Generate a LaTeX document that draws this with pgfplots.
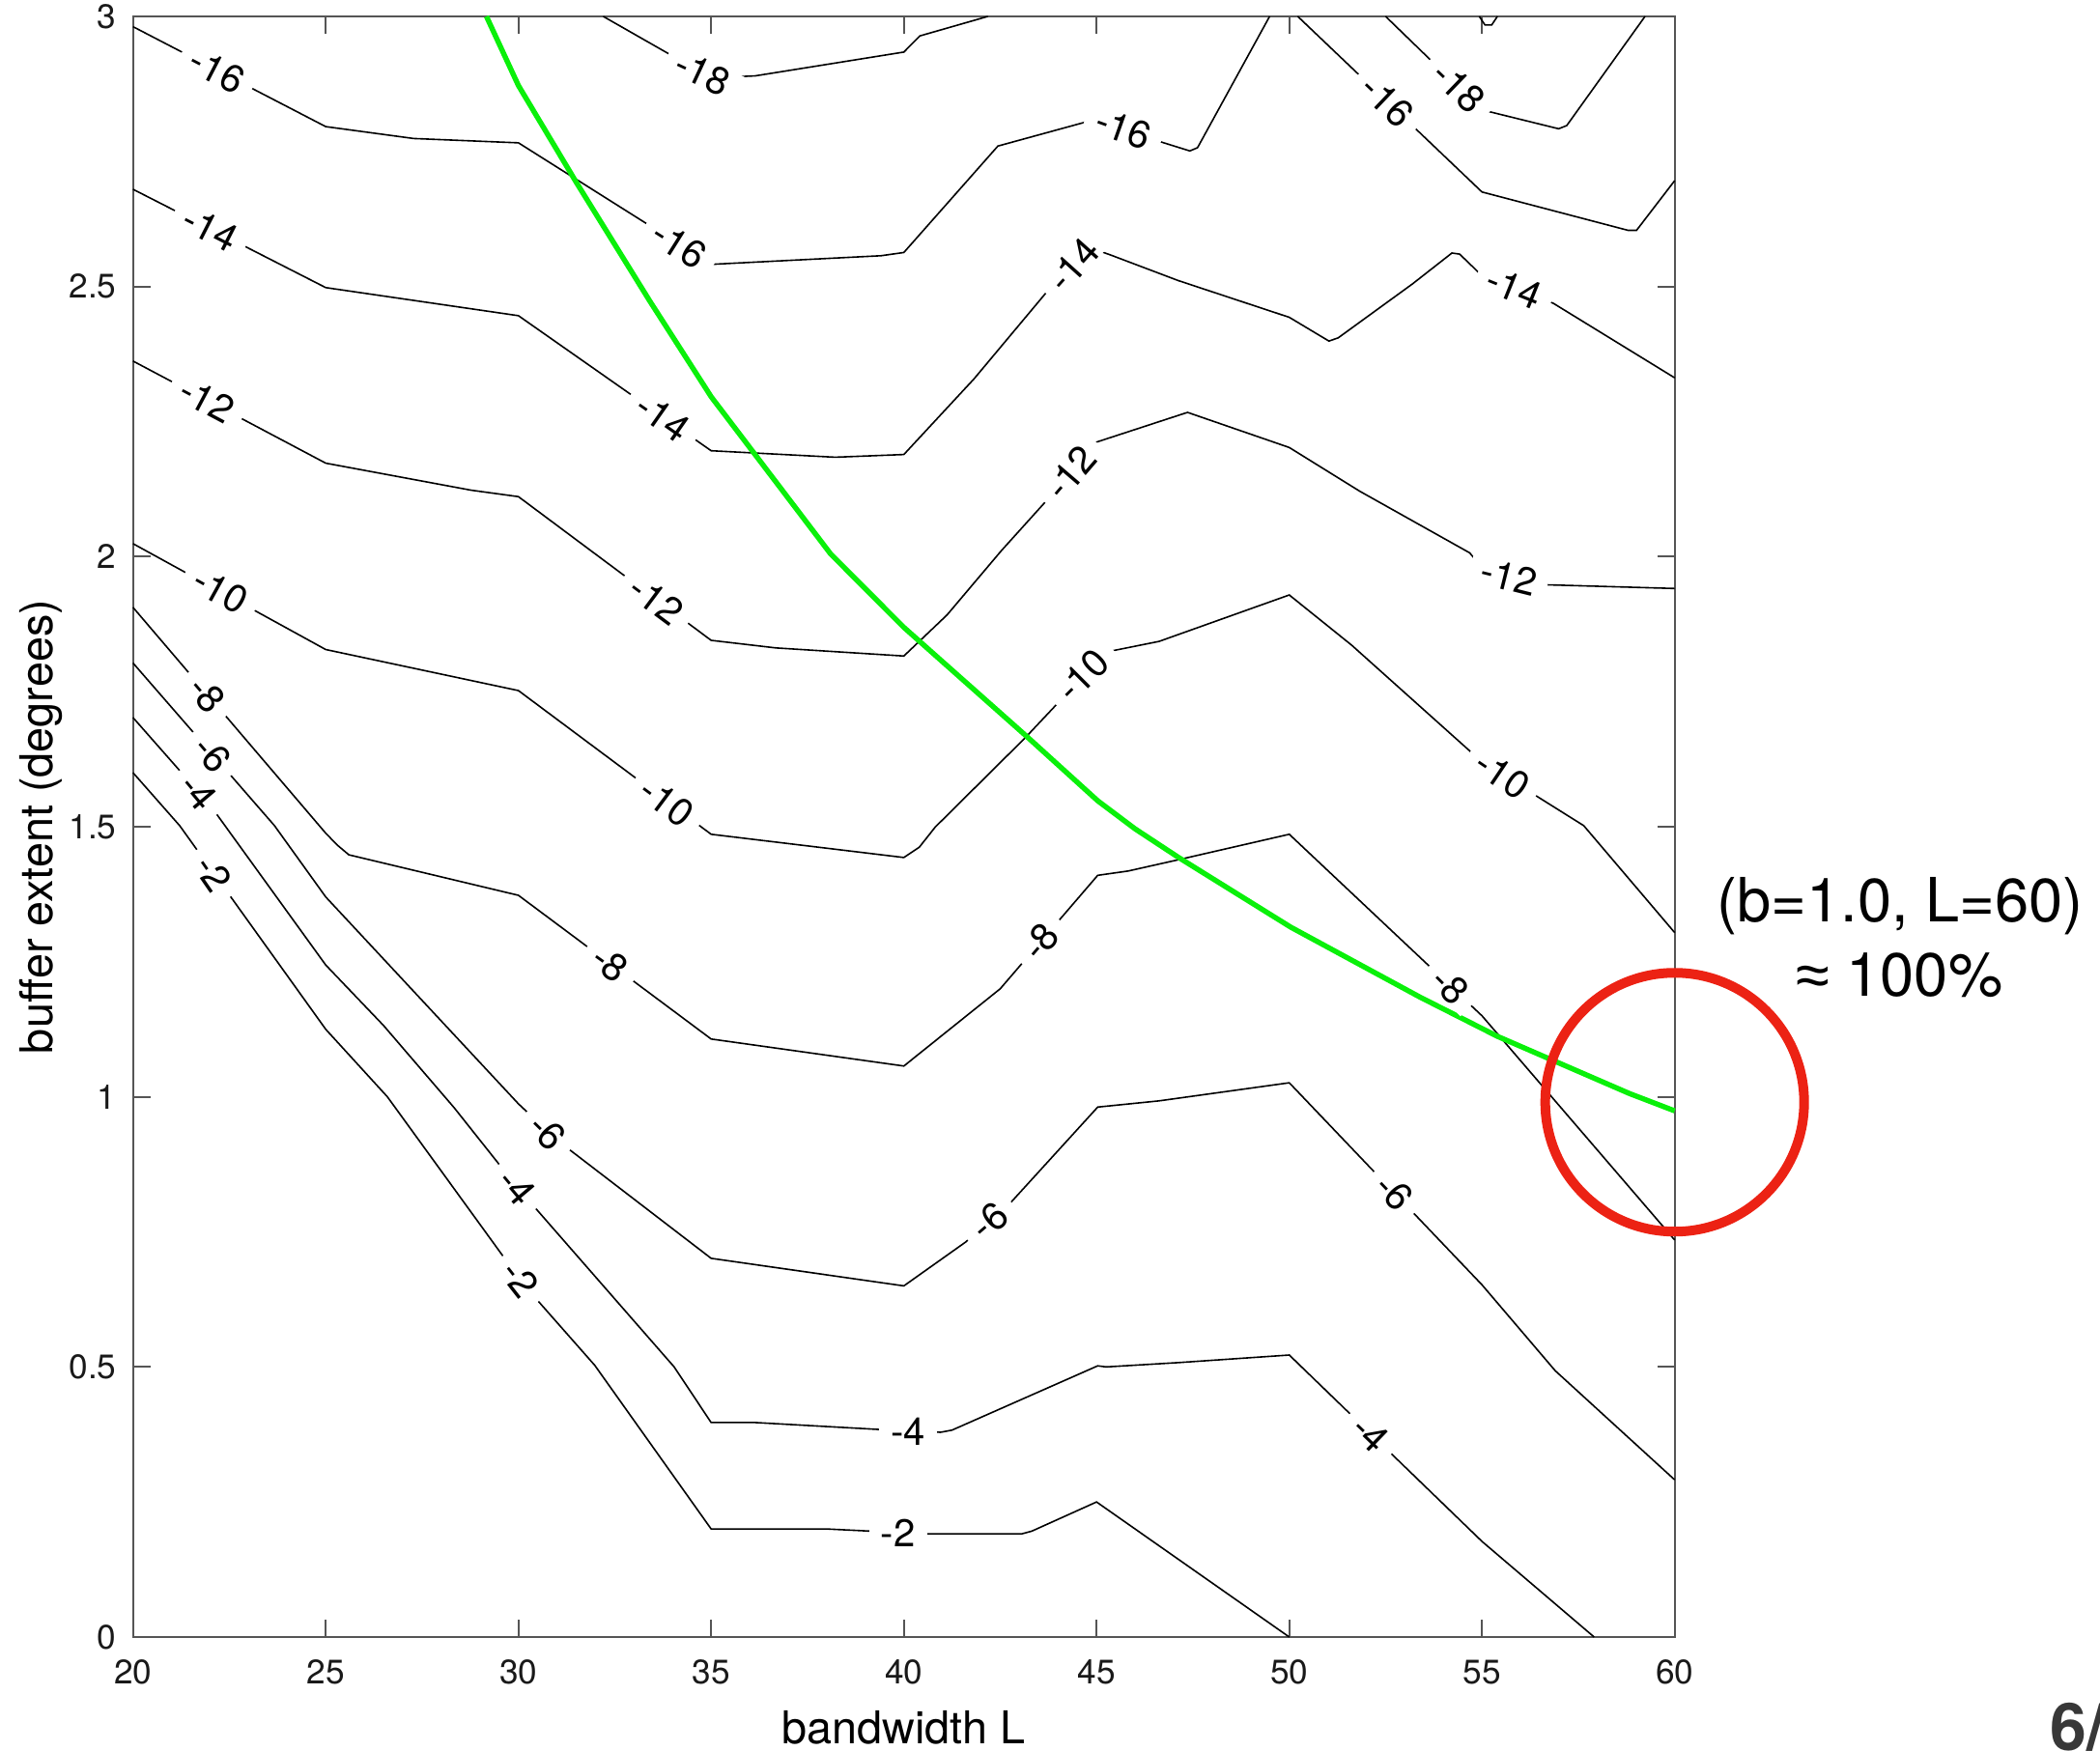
\documentclass[border=0pt]{standalone}
\usepackage{fontspec}
\setmainfont{TeX Gyre Heros}
\newfontfamily\symf{Liberation Sans}
\usepackage{pgfplots}
\pgfplotsset{compat=1.18}
\definecolor{mgreen}{RGB}{10,240,10}
\definecolor{mred}{RGB}{236,34,20}
\definecolor{axgray}{RGB}{85,85,85}
\tikzset{
  cont/.style={black, line width=0.4pt},
  clab/.style={fill=white, inner xsep=3pt, inner ysep=0pt, font=\fontsize{10}{12}\selectfont, anchor=center},
}
\begin{document}
\begin{tikzpicture}
\useasboundingbox (-34.43pt,-29.5pt) rectangle (509.08pt,423.75pt);
\begin{axis}[
  at={(0pt,0pt)}, anchor=south west,
  scale only axis, width=399pt, height=419.5pt,
  xmin=20, xmax=60, ymin=0, ymax=3,
  clip=false,
  xtick={20,25,30,35,40,45,50,55,60},
  ytick={0,0.5,1,1.5,2,2.5,3},
  tick align=inside, xtick pos=both, ytick pos=both,
  major tick length=4.5pt,
  axis line style={axgray, line width=0.55pt},
  tick style={axgray, line width=0.55pt},
  /pgf/number format/assume math mode=true,
  ticklabel style={font=\fontsize{8.8}{10}\selectfont, text=black!90},
  xticklabel style={yshift=-2.4pt},
  yticklabel style={xshift=-0.8pt},
  xlabel={bandwidth L}, ylabel={buffer extent (degrees)},
  xlabel style={at={(axis description cs:0.5,-0.06615)}, anchor=base, font=\fontsize{11.7}{14}\selectfont},
  ylabel style={at={(axis description cs:-0.0519,0.5)}, anchor=base, font=\fontsize{11.7}{14}\selectfont},
]
% contour -2
\addplot[cont] coordinates {(20,1.600) (21.21,1.502) (25,1.125) (26.6,1.0) (29.58,0.707) (30.51,0.622) (31.98,0.503) (35,0.200) (38,0.200) (39.14,0.196) (40.66,0.191) (43.06,0.191) (43.32,0.196) (45,0.250) (50,0.0)};
% contour -4
\addplot[cont] coordinates {(20,1.702) (22,1.54) (25,1.244) (26.5,1.132) (28.33,0.980) (30,0.83) (34.04,0.500) (35,0.397) (36.15,0.397) (39.41,0.384) (40.95,0.379) (41.25,0.383) (45.03,0.502) (45.25,0.500) (47.13,0.508) (50,0.522) (55,0.177) (57.91,0.0)};
% contour -6
\addplot[cont] coordinates {(20,1.803) (23.67,1.502) (25,1.370) (30,0.987) (31,0.92) (35,0.701) (40,0.650) (41.6,0.731) (42.77,0.804) (45.03,0.981) (46.62,0.9925) (50,1.026) (55,0.652) (56.9,0.493) (60,0.291)};
% contour -8
\addplot[cont] coordinates {(20,1.906) (25,1.488) (25.3,1.466) (25.6,1.448) (30,1.373) (35,1.107) (40,1.057) (42.5,1.200) (45.03,1.410) (45.82,1.418) (47.13,1.439) (50,1.486) (55,1.150) (60,0.735)};
% contour -10
\addplot[cont] coordinates {(20,2.024) (25,1.828) (30,1.752) (35,1.486) (40,1.443) (40.4,1.462) (40.81,1.499) (43.14,1.664) (45,1.805) (45.43,1.826) (46.62,1.843) (50,1.929) (51.62,1.836) (55,1.620) (57.64,1.502) (60,1.304)};
% contour -12
\addplot[cont] coordinates {(20,2.362) (25,2.173) (28.77,2.123) (30,2.111) (35,1.845) (36.68,1.831) (40,1.816) (41.12,1.892) (42.53,2.011) (43.63,2.098) (45,2.212) (47.36,2.267) (50,2.202) (51.83,2.121) (54.68,2.007) (55,1.98) (56.6,1.948) (60,1.941)};
% contour -14
\addplot[cont] coordinates {(20,2.680) (25,2.498) (30,2.446) (35,2.196) (38.22,2.184) (40,2.189) (41.82,2.329) (43.72,2.491) (44.9,2.57) (45.34,2.559) (47.12,2.511) (50,2.443) (51.03,2.399) (51.27,2.405) (53.2,2.505) (54.22,2.562) (54.42,2.560) (55,2.52) (56.85,2.469) (60,2.331)};
% contour -16
\addplot[cont] coordinates {(20,2.981) (25,2.796) (27.28,2.774) (30,2.766) (35,2.541) (39.41,2.557) (40,2.563) (42.44,2.760) (45,2.81) (46.7,2.767) (47.42,2.751) (47.62,2.757) (49.49,3.0)};
\addplot[cont] coordinates {(50.22,3.0) (55,2.675) (58.79,2.604) (59.01,2.604) (60,2.696)};
% contour -18
\addplot[cont] coordinates {(32.2,3.0) (35,2.886) (36.15,2.890) (40,2.934) (40.42,2.964) (42.18,3.0)};
\addplot[cont] coordinates {(52.5,3.0) (55,2.827) (56.99,2.792) (57.2,2.798) (59.23,3.0)};
\addplot[cont] coordinates {(54.93,3.0) (55.08,2.984) (55.25,2.984) (55.4,3.0)};
% green curve
\addplot[mgreen, line width=1.35pt] coordinates {(29.17,3.0) (30,2.872) (31.5,2.693) (33.4,2.474) (35,2.296) (38.1,2.005) (40,1.869) (43.19,1.667) (45.03,1.548) (46.0,1.496) (47.13,1.443) (50.04,1.314) (53.38,1.185) (55.4,1.112) (58.83,1.006) (60,0.974)};
% contour labels
\node[clab, rotate=-27.4] at (axis cs:22.18,2.900) {-16};
\node[clab, rotate=-32.2] at (axis cs:34.18,2.577) {-16};
\node[clab, rotate=-19.5] at (axis cs:45.70,2.792) {-16};
\node[clab, rotate=-43.6] at (axis cs:52.55,2.843) {-16};
\node[clab, rotate=-25] at (axis cs:34.79,2.895) {-18};
\node[clab, rotate=-44] at (axis cs:54.39,2.869) {-18};
\node[clab, rotate=-27] at (axis cs:22.00,2.607) {-14};
\node[clab, rotate=-35] at (axis cs:33.75,2.258) {-14};
\node[clab, rotate=48] at (axis cs:44.40,2.540) {-14};
\node[clab, rotate=-22] at (axis cs:55.84,2.498) {-14};
\node[clab, rotate=-28] at (axis cs:21.92,2.290) {-12};
\node[clab, rotate=-36.7] at (axis cs:33.57,1.920) {-12};
\node[clab, rotate=49.4] at (axis cs:44.33,2.156) {-12};
\node[clab, rotate=-14] at (axis cs:55.70,1.963) {-12};
\node[clab, rotate=-29] at (axis cs:22.27,1.937) {-10};
\node[clab, rotate=-36.7] at (axis cs:33.85,1.545) {-10};
\node[clab, rotate=45] at (axis cs:44.64,1.780) {-10};
\node[clab, rotate=-34] at (axis cs:55.53,1.596) {-10};
\node[clab, rotate=-49.5] at (axis cs:21.92,1.745) {-8};
\node[clab, rotate=-35.6] at (axis cs:32.38,1.246) {-8};
\node[clab, rotate=49.3] at (axis cs:43.55,1.287) {-8};
\node[clab, rotate=-45] at (axis cs:54.17,1.205) {-8};
\node[clab, rotate=-49] at (axis cs:22.05,1.635) {-6};
\node[clab, rotate=-44.7] at (axis cs:30.75,0.935) {-6};
\node[clab, rotate=41] at (axis cs:42.22,0.770) {-6};
\node[clab, rotate=-46.4] at (axis cs:52.72,0.823) {-6};
\node[clab, rotate=-50] at (axis cs:21.70,1.564) {-4};
\node[clab, rotate=-50] at (axis cs:29.96,0.833) {-4};
\node[clab] at (axis cs:40.11,0.381) {-4};
\node[clab, rotate=-44] at (axis cs:52.11,0.376) {-4};
\node[clab, rotate=-55.4] at (axis cs:22.09,1.414) {-2};
\node[clab, rotate=-52] at (axis cs:30.05,0.663) {-2};
\node[clab] at (axis cs:39.85,0.193) {-2};
% red circle
\addplot[only marks, mark=o, mark size=33.5pt, mred, mark options={line width=2.5pt, draw=mred, fill=none}] coordinates {(60,0.99)};
% annotation
\node[anchor=base, font=\fontsize{15.8}{19}\selectfont] at (axis cs:65.85,1.3246) {(b=1.0, L=60)};
\node[anchor=base, font=\fontsize{15.8}{19}\selectfont] at (axis cs:65.83,1.1864) {{\symf ≈} 100\%};
\node[anchor=base west, inner sep=0pt, font=\fontsize{17}{20}\selectfont\bfseries, text=black!78] at (axis cs:69.73,-0.2106) {6/};
\end{axis}
\end{tikzpicture}
\end{document}
